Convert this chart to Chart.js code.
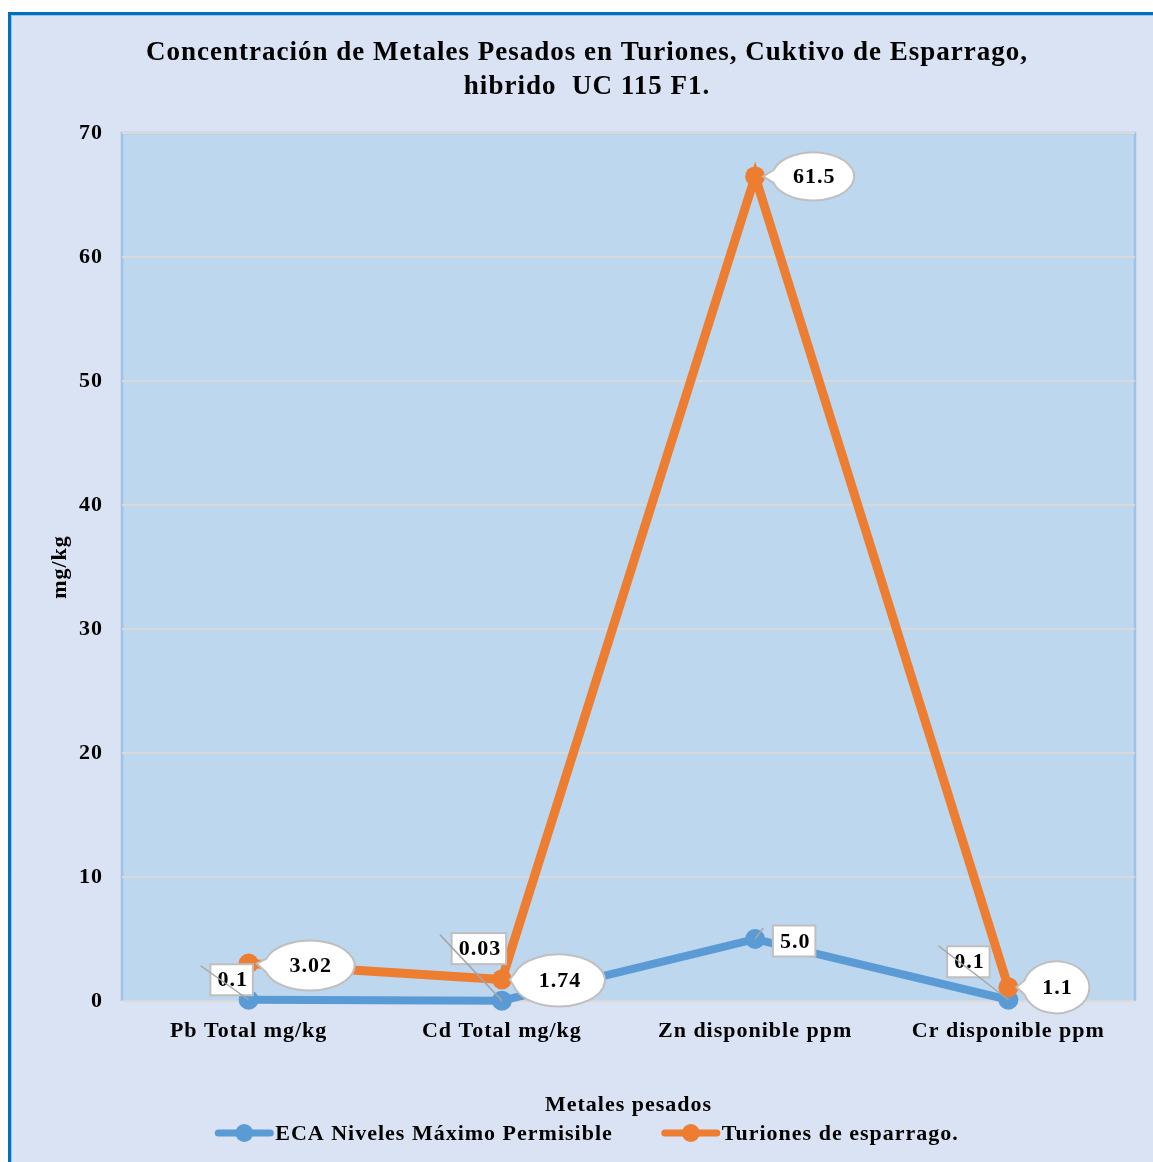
<!DOCTYPE html>
<html>
<head>
<meta charset="utf-8">
<script src="https://cdn.jsdelivr.net/npm/chart.js@4.4.0/dist/chart.umd.min.js"></script>
<style>
  html, body { margin: 0; padding: 0; background: #fff; }
</style>
</head>
<body>
<canvas id="chart" width="1153" height="1162"></canvas>
<script>
// --- data ---
const categories = ['Pb Total mg/kg', 'Cd Total mg/kg', 'Zn disponible ppm', 'Cr disponible ppm'];
const ecaValues = [0.1, 0.03, 5.0, 0.1];
const ecaLabels = ['0.1', '0.03', '5.0', '0.1'];
const turionValues = [3.02, 1.74, 66.5, 1.1];      // where the points sit on the axis
const turionLabels = ['3.02', '1.74', '61.5', '1.1']; // what the callouts say
const seriesNames = ['ECA Niveles Máximo Permisible', 'Turiones de esparrago.'];
const titleLines = ['Concentración de Metales Pesados en Turiones, Cuktivo de Esparrago,', 'hibrido  UC 115 F1.'];

const SERIF = "'Liberation Serif', 'Times New Roman', serif";
const BLUE = '#5b9bd5';
const ORANGE = '#ed7d31';
const SPACING = '1px';

// label placement (offsets from the point, px)
const boxPlace = [
  { dx: -17, dy: -20, lx: -48, ly: -34 },
  { dx: -23, dy: -52, lx: -62, ly: -66 },
  { dx: 39, dy: 2, lx: 8, ly: -11 },
  { dx: -40, dy: -38, lx: -70, ly: -54 }
];
const bubblePlace = [
  { dx: 61, dy: 2, rx: 45, ry: 25 },
  { dx: 57, dy: 1, rx: 46, ry: 26 },
  { dx: 58, dy: 0, rx: 41, ry: 24 },
  { dx: 48, dy: 0, rx: 33, ry: 26 }
];

// Excel-like wide letter spacing for all text
const spacingPlugin = {
  id: 'spacing',
  beforeLayout(chart) { chart.ctx.letterSpacing = SPACING; },
  beforeDraw(chart) { chart.ctx.letterSpacing = SPACING; }
};

// --- background, frame and plot area ---
const backgroundPlugin = {
  id: 'background',
  beforeDraw(chart) {
    const { ctx, width, height, chartArea: a } = chart;
    ctx.save();
    ctx.fillStyle = '#fff';
    ctx.fillRect(0, 0, width, height);
    ctx.fillStyle = '#dae3f3';
    ctx.fillRect(9, 13, width - 9, height - 13);
    // outer frame
    ctx.strokeStyle = '#0070c0';
    ctx.lineWidth = 3;
    ctx.beginPath();
    ctx.moveTo(9.5, height);
    ctx.lineTo(9.5, 13.5);
    ctx.lineTo(width, 13.5);
    ctx.stroke();
    ctx.strokeStyle = '#9dc3e6';
    ctx.lineWidth = 1;
    ctx.beginPath();
    ctx.moveTo(11.5, height);
    ctx.lineTo(11.5, 15.5);
    ctx.lineTo(width, 15.5);
    ctx.stroke();
    // plot area
    ctx.fillStyle = '#bdd7ee';
    ctx.fillRect(a.left, a.top, a.right - a.left, a.bottom - a.top);
    ctx.strokeStyle = '#9dc3e6';
    ctx.lineWidth = 2.5;
    ctx.beginPath();
    ctx.moveTo(a.left, a.bottom);
    ctx.lineTo(a.left, a.top);
    ctx.lineTo(a.right, a.top);
    ctx.lineTo(a.right, a.bottom);
    ctx.stroke();
    ctx.restore();
  }
};

// --- data labels: boxes for ECA, callout bubbles for Turiones ---
const labelPlugin = {
  id: 'dataLabels',
  afterDatasetsDraw(chart) {
    const ctx = chart.ctx;
    ctx.save();
    ctx.font = 'bold 22px ' + SERIF;
    ctx.textAlign = 'center';
    ctx.textBaseline = 'middle';

    chart.getDatasetMeta(0).data.forEach((pt, i) => {
      const p = boxPlace[i];
      const txt = ecaLabels[i];
      const w = ctx.measureText(txt).width + 12;
      const h = 31;
      const cx = pt.x + p.dx, cy = pt.y + p.dy;
      ctx.fillStyle = '#fff';
      ctx.fillRect(cx - w / 2, cy - h / 2, w, h);
      ctx.strokeStyle = '#bfbfbf';
      ctx.lineWidth = 2;
      ctx.strokeRect(cx - w / 2, cy - h / 2, w, h);
      ctx.fillStyle = '#000';
      ctx.fillText(txt, cx + 1, cy + 1);
      ctx.strokeStyle = '#a6a6a6';
      ctx.lineWidth = 1.5;
      ctx.beginPath();
      ctx.moveTo(pt.x + p.lx, pt.y + p.ly);
      ctx.lineTo(pt.x, pt.y);
      ctx.stroke();
    });

    chart.getDatasetMeta(1).data.forEach((pt, i) => {
      const p = bubblePlace[i];
      const cx = pt.x + p.dx, cy = pt.y + p.dy;
      const a = 0.28;
      ctx.beginPath();
      ctx.moveTo(pt.x + 8, pt.y);
      ctx.ellipse(cx, cy, p.rx, p.ry, 0, Math.PI + a, 3 * Math.PI - a, false);
      ctx.closePath();
      ctx.fillStyle = '#fff';
      ctx.fill();
      ctx.strokeStyle = '#bfbfbf';
      ctx.lineWidth = 2;
      ctx.stroke();
      ctx.fillStyle = '#000';
      ctx.fillText(turionLabels[i], cx + 1, cy + 1);
    });
    ctx.restore();
  }
};

// --- legend drawn under the axis title ---
const legendPlugin = {
  id: 'customLegend',
  afterDraw(chart) {
    const ctx = chart.ctx;
    const colors = [BLUE, ORANGE];
    ctx.save();
    ctx.font = 'bold 22px ' + SERIF;
    ctx.textBaseline = 'middle';
    ctx.textAlign = 'left';
    const lineW = 58, gap = 49, y = 1133;
    const widths = seriesNames.map(n => ctx.measureText(n).width);
    const total = widths.reduce((s, w) => s + lineW + 2 + w, 0) + gap;
    let x = (39 + 1135) / 2 - total / 2;
    seriesNames.forEach((name, i) => {
      ctx.strokeStyle = colors[i];
      ctx.lineWidth = 7;
      ctx.lineCap = 'round';
      ctx.beginPath();
      ctx.moveTo(x + 3, y);
      ctx.lineTo(x + lineW - 3, y);
      ctx.stroke();
      ctx.fillStyle = colors[i];
      ctx.beginPath();
      ctx.arc(x + lineW / 2, y, 9, 0, Math.PI * 2);
      ctx.fill();
      ctx.fillStyle = '#000';
      ctx.fillText(name, x + lineW + 2, y + 1);
      x += lineW + 2 + widths[i] + gap;
    });
    ctx.restore();
  }
};

const tickFont = { family: SERIF, size: 22, weight: 'bold' };

new Chart(document.getElementById('chart'), {
  type: 'line',
  data: {
    labels: categories,
    datasets: [
      {
        label: seriesNames[0],
        data: ecaValues,
        borderColor: BLUE,
        backgroundColor: BLUE,
        borderWidth: 8,
        pointRadius: 10,
        pointBorderWidth: 0,
        clip: false,
        order: 1
      },
      {
        label: seriesNames[1],
        data: turionValues,
        borderColor: ORANGE,
        backgroundColor: ORANGE,
        borderWidth: 9,
        pointRadius: 10,
        pointBorderWidth: 0,
        clip: false,
        order: 0
      }
    ]
  },
  options: {
    responsive: false,
    animation: false,
    layout: { padding: { left: 39, right: 18, top: 0, bottom: 40 } },
    plugins: {
      legend: { display: false },
      tooltip: { enabled: false },
      title: {
        display: true,
        text: titleLines,
        color: '#000',
        font: { family: SERIF, size: 27, weight: 'bold', lineHeight: 1.26 },
        padding: { top: 36, bottom: 29 }
      }
    },
    scales: {
      x: {
        offset: true,
        grid: { display: false, drawTicks: false },
        border: { display: false },
        ticks: { color: '#000', padding: 17, font: tickFont },
        title: {
          display: true,
          text: 'Metales pesados',
          color: '#000',
          font: tickFont,
          padding: { top: 3, bottom: 3 }
        },
        afterFit(scale) { scale.height = 121; }
      },
      y: {
        min: 0,
        max: 70,
        grid: { color: '#d9d9d9', lineWidth: 2, drawTicks: false },
        border: { display: false },
        ticks: { stepSize: 10, color: '#000', padding: 19, font: tickFont },
        title: {
          display: true,
          text: 'mg/kg',
          color: '#000',
          font: tickFont,
          padding: { top: 8, bottom: 8 }
        },
        afterFit(scale) { scale.width = 83; }
      }
    }
  },
  plugins: [spacingPlugin, backgroundPlugin, labelPlugin, legendPlugin]
});
</script>
</body>
</html>
